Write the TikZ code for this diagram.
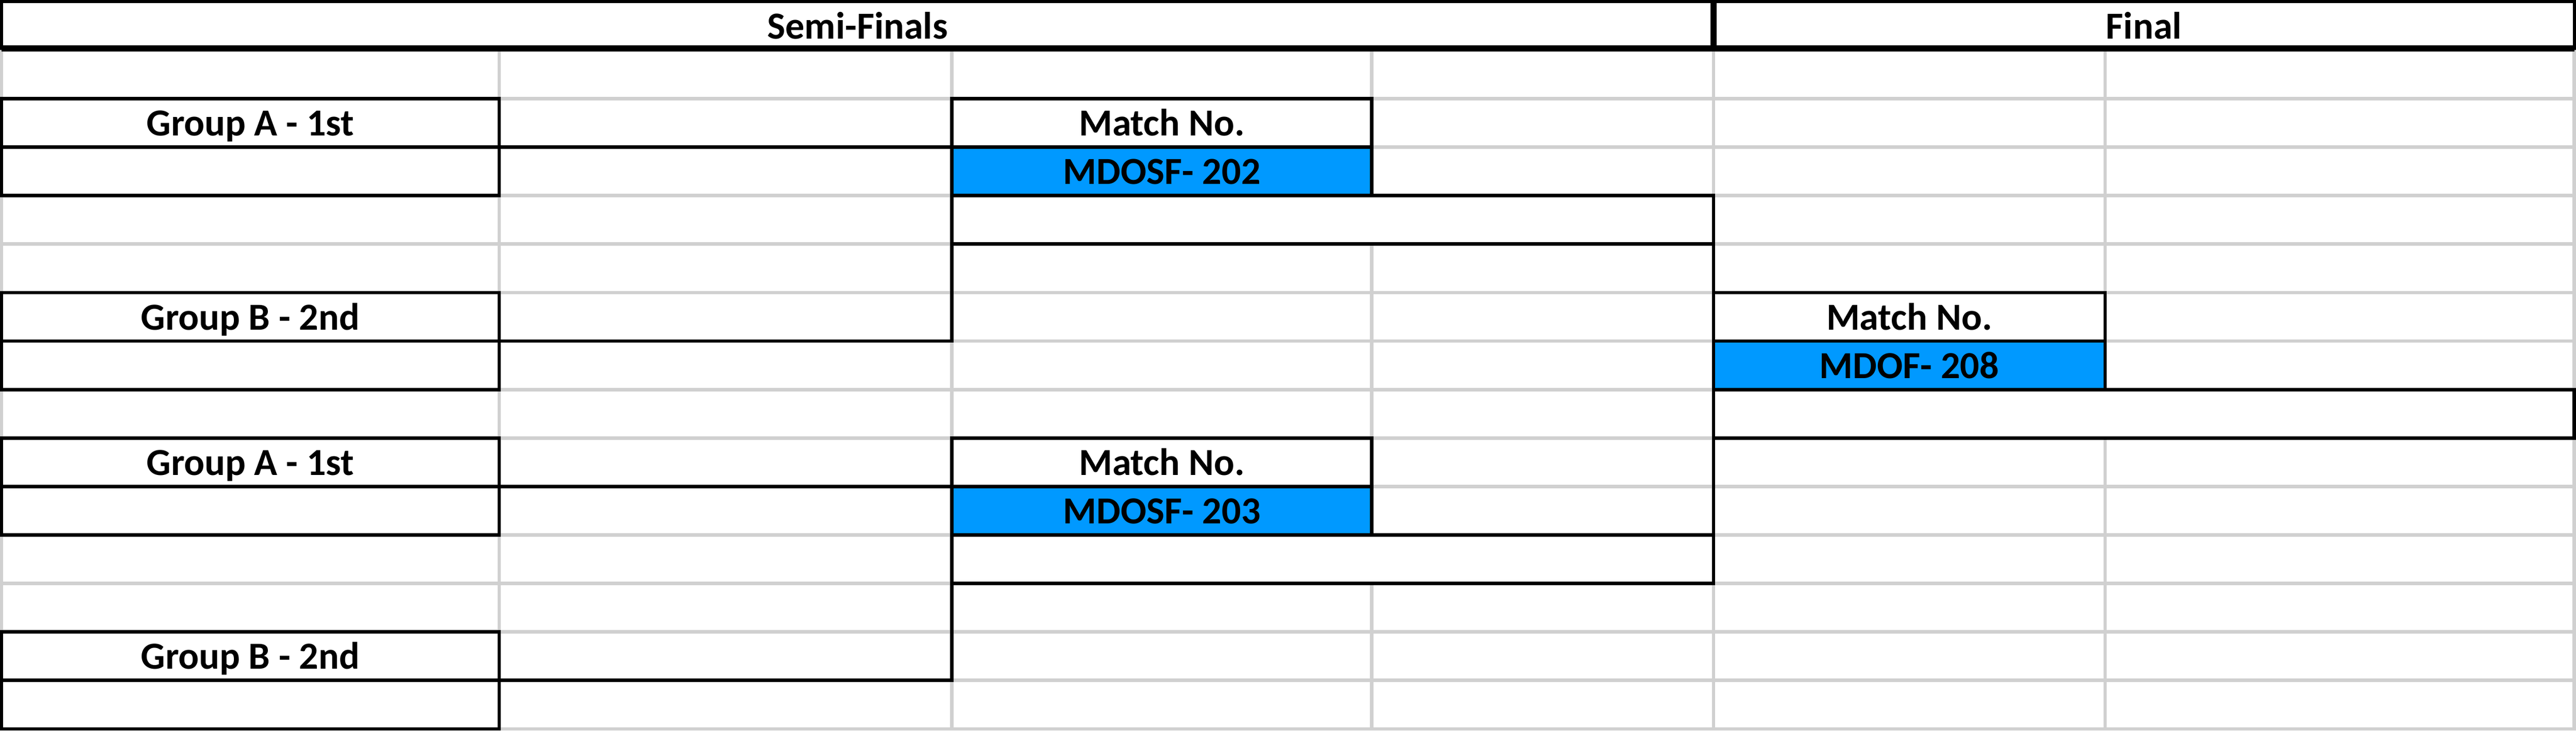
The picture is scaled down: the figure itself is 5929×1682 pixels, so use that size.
\documentclass[tikz,border=0pt]{standalone}
\usepackage{fontspec}
\setmainfont{Carlito}
\usetikzlibrary{fit}
\definecolor{cellblue}{HTML}{0099FF}
\definecolor{gridgray}{HTML}{D0D0D0}
\begin{document}
\begin{tikzpicture}[x=0.25pt,y=-0.25pt,
  gridline/.style={gridgray,line width=2pt},
  cellbox/.style={draw=black,line width=2pt,inner sep=0pt,outer sep=0pt,fill=white},
  bluebox/.style={cellbox,fill=cellblue},
  headbox/.style={draw=black,line width=1.75pt,inner sep=0pt,outer sep=0pt,fill=white},
  conn/.style={draw=black,line width=2pt},
  lbl/.style={anchor=base,inner sep=0pt,font=\fontsize{22}{26}\selectfont\bfseries}
]
\useasboundingbox (0,0) rectangle (5929,1682);
\fill[white] (0,0) rectangle (5929,1682);

% spreadsheet grid
\foreach \x in {3.5,1149,2191,3157,3944,4845,5925}
  \draw[gridline] (\x,111.5) -- (\x,1682);
\foreach \k in {1,...,14}
  \draw[gridline] (0,{227+111.6*(\k-1)}) -- (5929,{227+111.6*(\k-1)});

% header
\node[headbox,fit={(3.5,3.5) (3944,111.5)}] (hsemi) {};
\node[headbox,fit={(3944,3.5) (5925,111.5)}] (hfinal) {};
\draw[line width=3.75pt] (hsemi.south west) -- (hfinal.south east);
\draw[line width=3.5pt] (hfinal.north west) -- (hfinal.south west);
\node[lbl] (tsemi) at ([yshift=5.6pt]hsemi.south) {Semi-Finals};
\node[lbl] (tfinal) at ([yshift=5.6pt]hfinal.south) {Final};

% group boxes (upper)
\node[cellbox,fit={(3.5,227) (1149,338.6)}] (ga1) {};
\node[cellbox,fit={(3.5,338.6) (1149,450.2)}] (ga1e) {};
\node[cellbox,fit={(3.5,673.4) (1149,785)}] (gb2) {};
\node[cellbox,fit={(3.5,785) (1149,896.6)}] (gb2e) {};
% group boxes (lower)
\node[cellbox,fit={(3.5,1008.2) (1149,1119.8)}] (ga1l) {};
\node[cellbox,fit={(3.5,1119.8) (1149,1231.4)}] (ga1le) {};
\node[cellbox,fit={(3.5,1454.6) (1149,1566.2)}] (gb2l) {};
\node[cellbox,fit={(3.5,1566.2) (1149,1677.8)}] (gb2le) {};

% semi-final match 202
\node[cellbox,fit={(2191,227) (3157,338.6)}] (mn202) {};
\node[bluebox,fit={(2191,338.6) (3157,450.2)}] (id202) {};
\node[cellbox,fit={(2191,450.2) (3944,561.8)}] (w202) {};
% semi-final match 203
\node[cellbox,fit={(2191,1008.2) (3157,1119.8)}] (mn203) {};
\node[bluebox,fit={(2191,1119.8) (3157,1231.4)}] (id203) {};
\node[cellbox,fit={(2191,1231.4) (3944,1343)}] (w203) {};
% final match 208
\node[cellbox,fit={(3944,673.4) (4845,785)}] (mn208) {};
\node[bluebox,fit={(3944,785) (4845,896.6)}] (id208) {};
\node[cellbox,fit={(3944,896.6) (5925,1008.2)}] (w208) {};

% bracket connectors
\draw[conn] (ga1.south east) -- (mn202.south west) -- (mn202.south west |- gb2.south east) -- (gb2.south east);
\draw[conn] (ga1l.south east) -- (mn203.south west) -- (mn203.south west |- gb2l.south east) -- (gb2l.south east);
\draw[conn] (w202.north east) -- (w203.south east);

% labels
\node[lbl] (tga1) at ([yshift=6.5pt]ga1.south) {Group A - 1st};
\node[lbl] (tgb2) at ([yshift=6.5pt]gb2.south) {Group B - 2nd};
\node[lbl] (tga1l) at ([yshift=6.5pt]ga1l.south) {Group A - 1st};
\node[lbl] (tgb2l) at ([yshift=6.5pt]gb2l.south) {Group B - 2nd};
\node[lbl] (tmn202) at ([yshift=6.5pt]mn202.south) {Match No.};
\node[lbl] (tid202) at ([yshift=6.5pt]id202.south) {MDOSF- 202};
\node[lbl] (tmn203) at ([yshift=6.5pt]mn203.south) {Match No.};
\node[lbl] (tid203) at ([yshift=6.5pt]id203.south) {MDOSF- 203};
\node[lbl] (tmn208) at ([yshift=6.5pt]mn208.south) {Match No.};
\node[lbl] (tid208) at ([yshift=6.5pt]id208.south) {MDOF- 208};
\end{tikzpicture}
\end{document}
